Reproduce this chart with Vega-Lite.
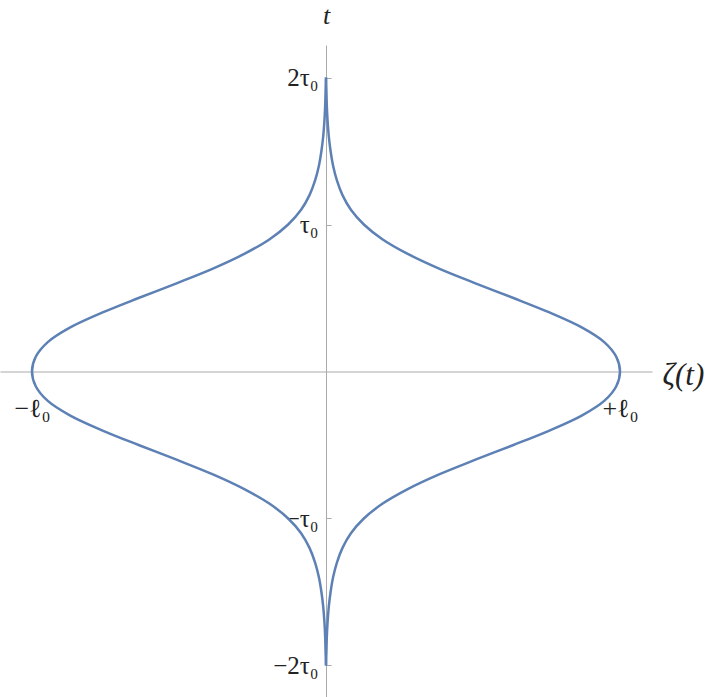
{
  "$schema": "https://vega.github.io/schema/vega-lite/v6.json",
  "autosize": {"type": "none"},
  "padding": {"left": 0, "top": 45, "right": 60, "bottom": 0},
  "width": 652,
  "height": 652,
  "background": "white",
  "config": {"view": {"stroke": null}},
  "data": {"values": [
    {"branch": "R", "t": -2.0, "zeta": 0.0},
    {"branch": "R", "t": -1.9, "zeta": 0.0015},
    {"branch": "R", "t": -1.8, "zeta": 0.0029},
    {"branch": "R", "t": -1.7, "zeta": 0.0055},
    {"branch": "R", "t": -1.6, "zeta": 0.0095},
    {"branch": "R", "t": -1.5, "zeta": 0.0156},
    {"branch": "R", "t": -1.4, "zeta": 0.0241},
    {"branch": "R", "t": -1.3, "zeta": 0.0371},
    {"branch": "R", "t": -1.2, "zeta": 0.0561},
    {"branch": "R", "t": -1.1, "zeta": 0.0847},
    {"branch": "R", "t": -1.0, "zeta": 0.1287},
    {"branch": "R", "t": -0.9, "zeta": 0.1916},
    {"branch": "R", "t": -0.8, "zeta": 0.2780},
    {"branch": "R", "t": -0.7, "zeta": 0.3846},
    {"branch": "R", "t": -0.6, "zeta": 0.5083},
    {"branch": "R", "t": -0.5, "zeta": 0.6376},
    {"branch": "R", "t": -0.4, "zeta": 0.7619},
    {"branch": "R", "t": -0.3, "zeta": 0.8698},
    {"branch": "R", "t": -0.2, "zeta": 0.9463},
    {"branch": "R", "t": -0.1, "zeta": 0.9873},
    {"branch": "R", "t": 0.0, "zeta": 1.0},
    {"branch": "R", "t": 0.1, "zeta": 0.9873},
    {"branch": "R", "t": 0.2, "zeta": 0.9463},
    {"branch": "R", "t": 0.3, "zeta": 0.8698},
    {"branch": "R", "t": 0.4, "zeta": 0.7619},
    {"branch": "R", "t": 0.5, "zeta": 0.6376},
    {"branch": "R", "t": 0.6, "zeta": 0.5083},
    {"branch": "R", "t": 0.7, "zeta": 0.3846},
    {"branch": "R", "t": 0.8, "zeta": 0.2780},
    {"branch": "R", "t": 0.9, "zeta": 0.1916},
    {"branch": "R", "t": 1.0, "zeta": 0.1287},
    {"branch": "R", "t": 1.1, "zeta": 0.0847},
    {"branch": "R", "t": 1.2, "zeta": 0.0561},
    {"branch": "R", "t": 1.3, "zeta": 0.0371},
    {"branch": "R", "t": 1.4, "zeta": 0.0241},
    {"branch": "R", "t": 1.5, "zeta": 0.0156},
    {"branch": "R", "t": 1.6, "zeta": 0.0095},
    {"branch": "R", "t": 1.7, "zeta": 0.0055},
    {"branch": "R", "t": 1.8, "zeta": 0.0029},
    {"branch": "R", "t": 1.9, "zeta": 0.0015},
    {"branch": "R", "t": 2.0, "zeta": 0.0},
    {"branch": "L", "t": -2.0, "zeta": 0.0},
    {"branch": "L", "t": -1.9, "zeta": -0.0015},
    {"branch": "L", "t": -1.8, "zeta": -0.0029},
    {"branch": "L", "t": -1.7, "zeta": -0.0055},
    {"branch": "L", "t": -1.6, "zeta": -0.0095},
    {"branch": "L", "t": -1.5, "zeta": -0.0156},
    {"branch": "L", "t": -1.4, "zeta": -0.0241},
    {"branch": "L", "t": -1.3, "zeta": -0.0371},
    {"branch": "L", "t": -1.2, "zeta": -0.0561},
    {"branch": "L", "t": -1.1, "zeta": -0.0847},
    {"branch": "L", "t": -1.0, "zeta": -0.1287},
    {"branch": "L", "t": -0.9, "zeta": -0.1916},
    {"branch": "L", "t": -0.8, "zeta": -0.2780},
    {"branch": "L", "t": -0.7, "zeta": -0.3846},
    {"branch": "L", "t": -0.6, "zeta": -0.5083},
    {"branch": "L", "t": -0.5, "zeta": -0.6376},
    {"branch": "L", "t": -0.4, "zeta": -0.7619},
    {"branch": "L", "t": -0.3, "zeta": -0.8698},
    {"branch": "L", "t": -0.2, "zeta": -0.9463},
    {"branch": "L", "t": -0.1, "zeta": -0.9873},
    {"branch": "L", "t": 0.0, "zeta": -1.0},
    {"branch": "L", "t": 0.1, "zeta": -0.9873},
    {"branch": "L", "t": 0.2, "zeta": -0.9463},
    {"branch": "L", "t": 0.3, "zeta": -0.8698},
    {"branch": "L", "t": 0.4, "zeta": -0.7619},
    {"branch": "L", "t": 0.5, "zeta": -0.6376},
    {"branch": "L", "t": 0.6, "zeta": -0.5083},
    {"branch": "L", "t": 0.7, "zeta": -0.3846},
    {"branch": "L", "t": 0.8, "zeta": -0.2780},
    {"branch": "L", "t": 0.9, "zeta": -0.1916},
    {"branch": "L", "t": 1.0, "zeta": -0.1287},
    {"branch": "L", "t": 1.1, "zeta": -0.0847},
    {"branch": "L", "t": 1.2, "zeta": -0.0561},
    {"branch": "L", "t": 1.3, "zeta": -0.0371},
    {"branch": "L", "t": 1.4, "zeta": -0.0241},
    {"branch": "L", "t": 1.5, "zeta": -0.0156},
    {"branch": "L", "t": 1.6, "zeta": -0.0095},
    {"branch": "L", "t": 1.7, "zeta": -0.0055},
    {"branch": "L", "t": 1.8, "zeta": -0.0029},
    {"branch": "L", "t": 1.9, "zeta": -0.0015},
    {"branch": "L", "t": 2.0, "zeta": 0.0}
  ]},
  "mark": {"type": "line", "color": "#5E81B5", "strokeWidth": 2.5, "interpolate": "catmull-rom", "clip": false},
  "encoding": {
    "x": {
      "field": "zeta", "type": "quantitative",
      "scale": {"domain": [-1.10884, 1.10884], "nice": false, "zero": false},
      "axis": {
        "orient": "bottom", "offset": -325.5, "grid": false,
        "values": [-1, 1],
        "labelExpr": "datum.value < 0 ? '−ℓ₀' : '+ℓ₀'",
        "ticks": false, "labelPadding": 24, "labelBaseline": "top", "labelAlign": "center",
        "labelFont": "Liberation Serif", "labelFontSize": 26, "labelColor": "#222222",
        "labelFlush": false, "labelOverlap": false,
        "domainColor": "#aaaaaa", "domainWidth": 1,
        "title": "ζ(t)", "titleFont": "Liberation Serif", "titleFontSize": 31, "titleFontStyle": "italic",
        "titleFontWeight": "normal", "titleColor": "#222222",
        "titleX": 662, "titleY": 4, "titleAlign": "left", "titleBaseline": "middle", "titleAngle": 0
      }
    },
    "y": {
      "field": "t", "type": "quantitative",
      "scale": {"domain": [-2.2143, 2.2211], "nice": false, "zero": false},
      "axis": {
        "orient": "left", "offset": -326, "grid": false,
        "values": [-2, -1, 1, 2],
        "labelExpr": "datum.value == 2 ? '2τ₀' : datum.value == 1 ? 'τ₀' : datum.value == -1 ? '−τ₀' : '−2τ₀'",
        "ticks": true, "tickSize": -5, "tickColor": "#aaaaaa", "tickWidth": 1,
        "labelPadding": 13, "labelAlign": "right", "labelBaseline": "middle",
        "labelFont": "Liberation Serif", "labelFontSize": 25, "labelColor": "#222222",
        "labelFlush": false, "labelOverlap": false,
        "domainColor": "#aaaaaa", "domainWidth": 1,
        "title": "t", "titleFont": "Liberation Serif", "titleFontSize": 26, "titleFontStyle": "italic",
        "titleFontWeight": "normal", "titleColor": "#222222",
        "titleX": 0, "titleY": -30, "titleAlign": "center", "titleBaseline": "middle", "titleAngle": 0
      }
    },
    "detail": {"field": "branch", "type": "nominal"},
    "order": {"field": "t", "type": "quantitative"}
  }
}
